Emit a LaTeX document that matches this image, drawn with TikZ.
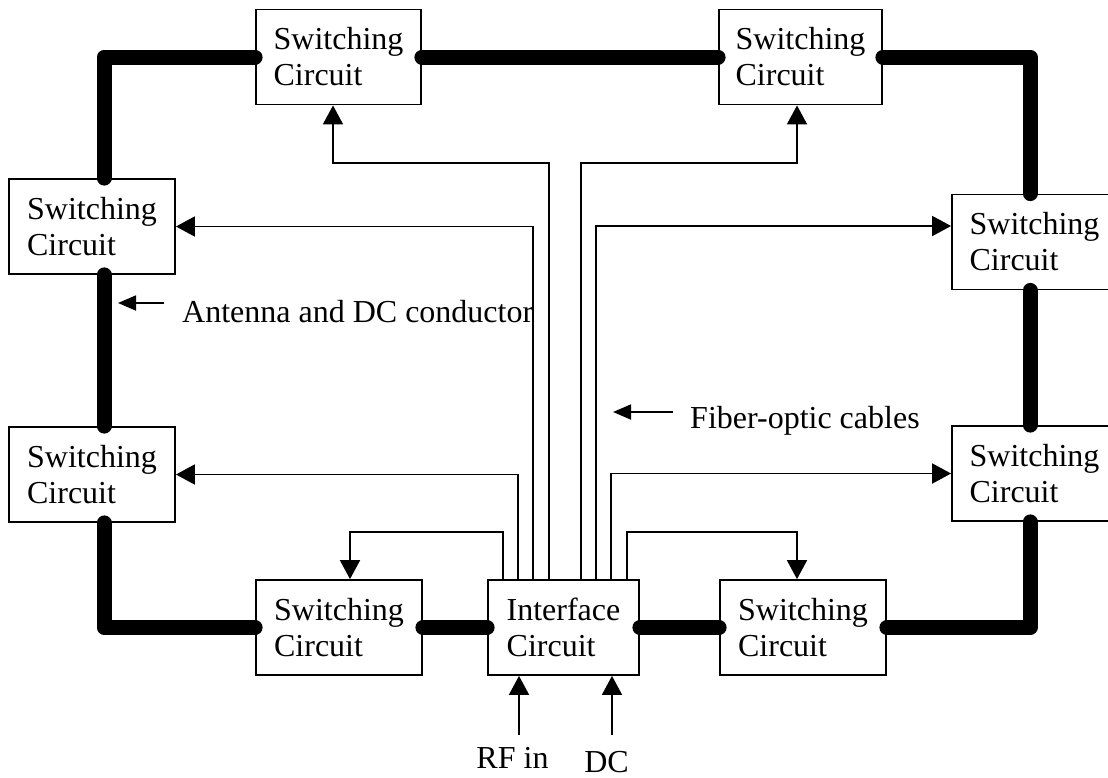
\documentclass[tikz,border=0pt]{standalone}
\usepackage{fontspec}
\setmainfont{Liberation Serif}
\usetikzlibrary{arrows.meta,calc}
\begin{document}
\begin{tikzpicture}[x=1pt,y=-1pt,
  box/.style={draw,line width=1.8pt,fill=white,inner sep=0pt,align=left,
    minimum height=95pt,font=\fontsize{32}{36}\selectfont},
  lbl/.style={inner sep=0pt,font=\fontsize{32}{36}\selectfont},
  thick line/.style={line width=15pt,line cap=round,line join=round},
  fib/.style={line width=1.8pt,-{Triangle[width=20pt,length=19pt]}},
  note/.style={line width=1.8pt,-{Triangle[width=15pt,length=18pt]}}]
\useasboundingbox (0,0) rectangle (1108,777);
\clip (0,0) rectangle (1108,777);
% boxes
\node[box,minimum width=165pt] (T1) at (338.5,57) {Switching\\Circuit};
\node[box,minimum width=163pt] (T2) at (800.5,57) {Switching\\Circuit};
\node[box,minimum width=166pt] (L1) at (92,226.5) {Switching\\Circuit};
\node[box,minimum width=166pt] (L2) at (92,474.5) {Switching\\Circuit};
\node[box,minimum width=165pt] (R1) at (1034.5,242) {Switching\\Circuit};
\node[box,minimum width=165pt] (R2) at (1034.5,473.5) {Switching\\Circuit};
\node[box,minimum width=166pt] (B1) at (339,627.5) {Switching\\Circuit};
\node[box,minimum width=151pt] (IC) at (563.5,627.5) {Interface\\Circuit};
\node[box,minimum width=166pt] (B2) at (803,627.5) {Switching\\Circuit};
% thick antenna / DC conductor
\draw[thick line] (T1.east) -- (T2.west);
\draw[thick line] (T1.west) -| ($(L1.north)+(12,0)$);
\draw[thick line] ($(L1.south)+(12,0)$) -- ($(L2.north)+(12,0)$);
\draw[thick line] ($(L2.south)+(12,0)$) |- (B1.west);
\draw[thick line] (B1.east) -- (IC.west);
\draw[thick line] (IC.east) -- (B2.west);
\draw[thick line] (B2.east) -| ($(R2.south)+(-4.5,0)$);
\draw[thick line] ($(R2.north)+(-4.5,0)$) -- ($(R1.south)+(-4.5,0)$);
\draw[thick line] ($(R1.north)+(-4.5,0)$) |- (T2.east);
% fiber-optic cables
\draw[fib] ($(IC.north west)+(16,0)$) -- ++(0,-47) -| ($(B1.north)+(11,0)$);
\draw[fib] ($(IC.north west)+(31,0)$) |- (L2.east);
\draw[fib] ($(IC.north west)+(46,0)$) |- (L1.east);
\draw[fib] ($(IC.north west)+(62,0)$) -- ++(0,-416) -| ($(T1.south)+(-5.5,0)$);
\draw[fib] ($(IC.north west)+(94,0)$) -- ++(0,-416) -| ($(T2.south)+(-3.5,0)$);
\draw[fib] ($(IC.north west)+(109,0)$) |- ($(R1.west)+(0,-16)$);
\draw[fib] ($(IC.north west)+(124,0)$) |- (R2.west);
\draw[fib] ($(IC.north west)+(140,0)$) -- ++(0,-47) -| ($(B2.north)+(-6,0)$);
% inputs
\coordinate (rfb) at (519,735);
\coordinate (dcb) at (612,735);
\draw[fib] (rfb) -- (rfb |- IC.south);
\draw[fib] (dcb) -- (dcb |- IC.south);
\node[lbl,anchor=base] (rf) at (512.5,768) {RF in};
\node[lbl,anchor=base] (dc) at (606.5,772) {DC};
% notes
\coordinate (a1) at (164,303);
\coordinate (a2) at (118,303);
\draw[note] (a1) -- (a2);
\node[lbl,anchor=base west] (ant) at (182,322) {Antenna and DC conductor};
\coordinate (f1) at (673,412);
\coordinate (f2) at (613,412);
\draw[note] (f1) -- (f2);
\node[lbl,anchor=base west] (fib) at (690,428) {Fiber-optic cables};
\end{tikzpicture}
\end{document}
